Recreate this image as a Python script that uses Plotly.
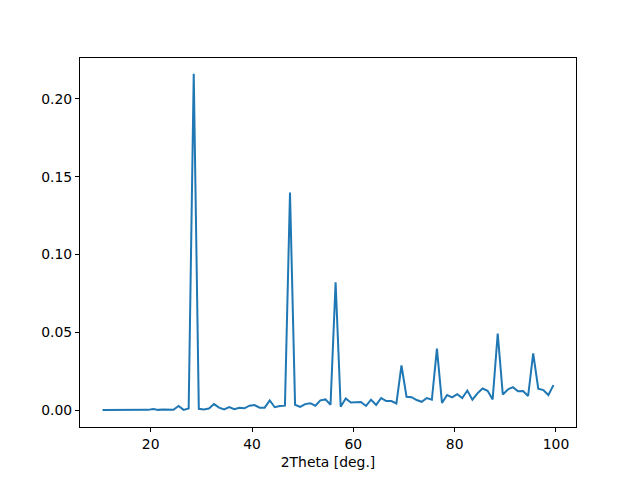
import plotly.graph_objects as go

two_theta = [10.5 + k for k in range(90)]
intensity = [
    0.0002, 0.0002, 0.0003, 0.0003, 0.0002, 0.0002, 0.0003, 0.0003, 0.0003, 0.0003,  # 10.5-19.5
    0.0008, 0.0003, 0.0006, 0.0007, 0.0004, 0.0028, 0.0003, 0.0012, 0.2160, 0.0010,  # 20.5-29.5
    0.0006, 0.0012, 0.0040, 0.0017, 0.0006, 0.0021, 0.0008, 0.0017, 0.0013, 0.0030,  # 30.5-39.5
    0.0034, 0.0017, 0.0017, 0.0064, 0.0020, 0.0028, 0.0030, 0.1398, 0.0036, 0.0022,  # 40.5-49.5
    0.0040, 0.0046, 0.0030, 0.0064, 0.0070, 0.0036, 0.0822, 0.0023, 0.0076, 0.0050,  # 50.5-59.5
    0.0051, 0.0054, 0.0028, 0.0068, 0.0035, 0.0079, 0.0060, 0.0060, 0.0044, 0.0288,  # 60.5-69.5
    0.0087, 0.0084, 0.0066, 0.0055, 0.0079, 0.0068, 0.0396, 0.0047, 0.0098, 0.0083,  # 70.5-79.5
    0.0104, 0.0079, 0.0127, 0.0068, 0.0109, 0.0140, 0.0126, 0.0070, 0.0493, 0.0102,  # 80.5-89.5
    0.0134, 0.0149, 0.0122, 0.0124, 0.0092, 0.0365, 0.0139, 0.0130, 0.0098, 0.0162,  # 90.5-99.5
]

x_ticks = [20, 40, 60, 80, 100]
y_ticks = [0.00, 0.05, 0.10, 0.15, 0.20]

fig = go.Figure()
fig.add_trace(go.Scatter(
    x=two_theta, y=intensity, mode="lines",
    line=dict(color="#1f77b4", width=2),
    showlegend=False,
))

axis_common = dict(
    showgrid=False, zeroline=False,
    showline=True, linecolor="black", linewidth=1, mirror=True,
    ticks="outside", ticklen=4, tickwidth=1, tickcolor="black",
    tickfont=dict(family="DejaVu Sans", size=13.9, color="black"),
)

# page body has an 8px default margin; size the figure so the plot area lands
# at x 80-576, y 58-427 of the 640x480 window
fig.update_layout(
    width=632, height=472,
    margin=dict(l=72, r=64, t=50, b=53),
    paper_bgcolor="white", plot_bgcolor="white",
    font=dict(family="DejaVu Sans", size=13.9, color="black"),
    xaxis=dict(
        range=[6.05, 103.95], tickvals=x_ticks, ticktext=[str(v) for v in x_ticks],
        title=dict(text="2Theta [deg.]", font=dict(family="DejaVu Sans", size=13.9, color="black"), standoff=6),
        **axis_common,
    ),
    yaxis=dict(
        range=[-0.0107, 0.2262], tickvals=y_ticks, ticktext=[f"{v:.2f}" for v in y_ticks],
        **axis_common,
    ),
)

fig.write_html("out.html")
